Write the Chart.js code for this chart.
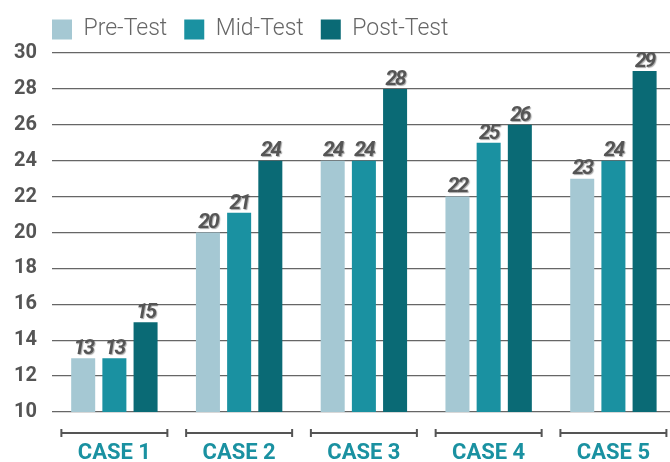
<!DOCTYPE html>
<html>
<head>
<meta charset="utf-8">
<script src="https://cdn.jsdelivr.net/npm/chart.js@4.4.1/dist/chart.umd.min.js"></script>
<style>
  html, body { margin: 0; padding: 0; background: #fff; overflow: hidden; }
  #wrap { width: 670px; height: 462px; overflow: hidden; }
</style>
</head>
<body>
<div id="wrap"><canvas id="chart" width="678" height="462"></canvas></div>
<script>
// data
var cases = ['CASE 1', 'CASE 2', 'CASE 3', 'CASE 4', 'CASE 5'];
var preTest = [13, 20, 24, 22, 23];
var midTest = [13, 21.1, 24, 25, 24];
var postTest = [15, 24, 28, 26, 29];
var valueLabels = [
  [13, 20, 24, 22, 23],
  [13, 21, 24, 25, 24],
  [15, 24, 28, 26, 29]
];

// value labels above the bars
var barLabels = {
  id: 'barLabels',
  afterDatasetsDraw: function(chart) {
    var ctx = chart.ctx;
    ctx.save();
    ctx.font = 'italic bold 21px Roboto';
    ctx.letterSpacing = '-2px';
    ctx.textAlign = 'center';
    ctx.textBaseline = 'bottom';
    ctx.fillStyle = '#555';
    ctx.shadowColor = 'rgba(0,0,0,0.35)';
    ctx.shadowOffsetX = 1;
    ctx.shadowOffsetY = 1;
    ctx.shadowBlur = 1;
    chart.data.datasets.forEach(function(ds, di) {
      chart.getDatasetMeta(di).data.forEach(function(bar, i) {
        ctx.fillText(valueLabels[di][i], bar.x, bar.y + 1);
      });
    });
    ctx.restore();
  }
};

// bracket under each category
var brackets = {
  id: 'brackets',
  afterDraw: function(chart) {
    var ctx = chart.ctx;
    var x = chart.scales.x;
    var y = chart.chartArea.bottom + 21;
    ctx.save();
    ctx.strokeStyle = '#555';
    ctx.lineWidth = 2;
    cases.forEach(function(c, i) {
      var cx = x.getPixelForValue(i);
      var half = 53;
      ctx.beginPath();
      ctx.moveTo(cx - half, y);
      ctx.lineTo(cx + half, y);
      ctx.moveTo(cx - half, y - 4);
      ctx.lineTo(cx - half, y + 4);
      ctx.moveTo(cx + half, y - 4);
      ctx.lineTo(cx + half, y + 4);
      ctx.stroke();
    });
    ctx.restore();
  }
};

// nudge the legend so it lines up with the plot's left edge
var legendShift = {
  id: 'legendShift',
  afterLayout: function(chart) {
    var lg = chart.legend;
    var dx = 35 - lg.left;
    lg.left += dx;
    lg.right += dx;
    lg.top -= 2;
    lg.bottom -= 2;
  }
};

new Chart(document.getElementById('chart'), {
  type: 'bar',
  data: {
    labels: cases,
    datasets: [
      { label: 'Pre-Test', data: preTest, backgroundColor: '#a5c8d3' },
      { label: 'Mid-Test', data: midTest, backgroundColor: '#1a91a1' },
      { label: 'Post-Test', data: postTest, backgroundColor: '#0a6a75' }
    ]
  },
  options: {
    responsive: false,
    animation: false,
    layout: { padding: { top: 3, right: 0, left: 0, bottom: 0 } },
    datasets: {
      bar: { categoryPercentage: 0.75, barPercentage: 0.77 }
    },
    plugins: {
      tooltip: { enabled: false },
      legend: {
        position: 'top',
        align: 'start',
        labels: {
          boxWidth: 20,
          boxHeight: 20,
          padding: 17,
          color: '#666',
          font: { family: 'Roboto', size: 23, weight: '300' }
        }
      }
    },
    scales: {
      x: {
        grid: { display: false, drawTicks: false },
        border: { display: false },
        afterFit: function(scale) { scale.height = 50; },
        ticks: {
          padding: 28,
          maxRotation: 0,
          color: '#1a91a1',
          font: { family: 'Roboto', size: 22, weight: 'bold' }
        }
      },
      y: {
        min: 10,
        max: 30,
        afterFit: function(scale) { scale.width = 52; },
        ticks: {
          stepSize: 2,
          padding: 15,
          color: '#555',
          font: { family: 'Roboto', size: 20, weight: 'bold' }
        },
        grid: { color: '#666', lineWidth: 1.3, drawTicks: false },
        border: { display: false }
      }
    }
  },
  plugins: [barLabels, brackets, legendShift]
});
</script>
</body>
</html>
